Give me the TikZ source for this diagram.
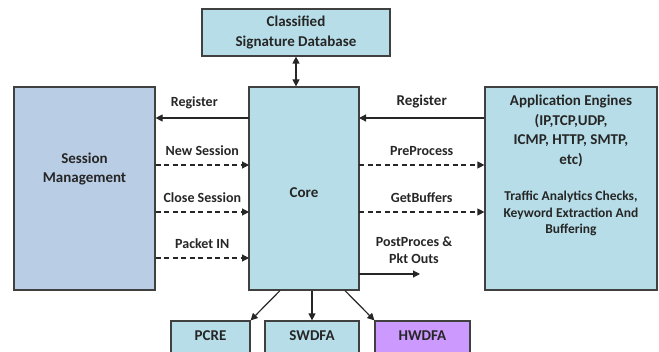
\documentclass[tikz,border=0pt]{standalone}
\usepackage{fontspec}
\setmainfont{Carlito}
\usetikzlibrary{arrows.meta,positioning}
\definecolor{boxblue}{HTML}{B7DEE8}
\definecolor{sessblue}{HTML}{B9CDE5}
\definecolor{hwpurple}{HTML}{CC99FF}
\definecolor{edgegray}{HTML}{404040}
\definecolor{txtgray}{HTML}{262626}

\begin{document}
\begin{tikzpicture}[x=1pt,y=1pt,
		blk/.style={draw=edgegray, line width=1.2pt, fill=boxblue, inner sep=0pt},
		big/.style={font=\fontsize{15}{19.5}\selectfont\bfseries, text=txtgray, align=center, inner sep=0pt},
		lbl/.style={font=\fontsize{14}{17}\selectfont\bfseries, text=txtgray, align=center, inner sep=0pt},
		small/.style={font=\fontsize{13.5}{16.5}\selectfont\bfseries, text=txtgray, align=center, inner sep=0pt},
		arr/.style={-{Triangle[length=7pt,width=7pt]}, line width=1.2pt, color=txtgray},
		dsh/.style={arr, dash pattern=on 5pt off 3.5pt}]
	\useasboundingbox (0,0) rectangle (659,351);

	% boxes
	\node[blk, big, minimum width=188pt, minimum height=47pt] (DB) at (296,318.5) {Classified\\Signature Database};
	\node[blk, fill=sessblue, minimum width=141pt, minimum height=203pt] (SM) at (84.5,162.5) {};
	\node[blk, minimum width=110pt, minimum height=203pt] (Core) at (304,162.5) {};
	\node[blk, minimum width=172pt, minimum height=203pt] (AE) at (571,162.5) {};
	\node[blk, big, minimum width=79pt, minimum height=36pt] (PCRE) at (210.5,12) {};
	\node[blk, big, minimum width=94pt, minimum height=36pt] (SWDFA) at (312,12) {};
	\node[blk, big, fill=hwpurple, minimum width=95pt, minimum height=36pt] (HWDFA) at (422.5,12) {};

	% box texts
	\node[big] (SMtxt) at (84.5,182) {Session\\Management};
	\node[big] (Coretxt) at (304,158) {Core};
	\node[big] (AEtxt) at (571,220) {Application Engines\\(IP,TCP,UDP,\\ICMP, HTTP, SMTP,\\etc)};
	\node[small] (AEsub) at (571,137.5) {Traffic Analytics Checks,\\Keyword Extraction And\\Buffering};
	\node[big] (PCREtxt) at (210.5,15) {PCRE};
	\node[big] (SWDFAtxt) at (312,15) {SWDFA};
	\node[big] (HWDFAtxt) at (422.5,15) {HWDFA};

	% core to database
	\path [arr, {Triangle[length=7pt,width=7pt]}-{Triangle[length=7pt,width=7pt]}] (DB) edge (DB |- Core.north);

	% session side
	\coordinate (cL1) at (249,233);
	\coordinate (cL2) at (249,186);
	\coordinate (cL3) at (249,139);
	\coordinate (cL4) at (249,93);
	\path [arr] (cL1) edge node[lbl, above=9pt, xshift=-8pt] {Register} (cL1 -| SM.east);
	\path [dsh] (cL2 -| SM.east) edge node[lbl, above=9pt] {New Session} (cL2);
	\path [dsh] (cL3 -| SM.east) edge node[lbl, above=9pt] {Close Session} (cL3);
	\path [dsh] (cL4 -| SM.east) edge node[lbl, above=9pt] {Packet IN} (cL4);

	% engine side
	\coordinate (cR1) at (359,233);
	\coordinate (cR2) at (359,186);
	\coordinate (cR3) at (359,139);
	\coordinate (cR4) at (359,77);
	\coordinate (pktout) at (420,77);
	\path [arr] (cR1 -| AE.west) edge node[big, above=9pt] {Register} (cR1);
	\path [dsh] (cR2) edge node[lbl, above=9pt] {PreProcess} (cR2 -| AE.west);
	\path [dsh] (cR3) edge node[lbl, above=9pt] {GetBuffers} (cR3 -| AE.west);
	\path [arr] (cR4) edge (pktout);
	\node[lbl] (ppl) at (414,100.5) {PostProces \&\\Pkt Outs};

	% core to matchers
	\path [arr] ([xshift=-24pt]Core.south) edge (PCRE.north east);
	\path [arr] (SWDFA.north |- Core.south) edge (SWDFA);
	\path [arr] ([xshift=41pt]Core.south) edge (HWDFA.north west);
\end{tikzpicture}
\end{document}
